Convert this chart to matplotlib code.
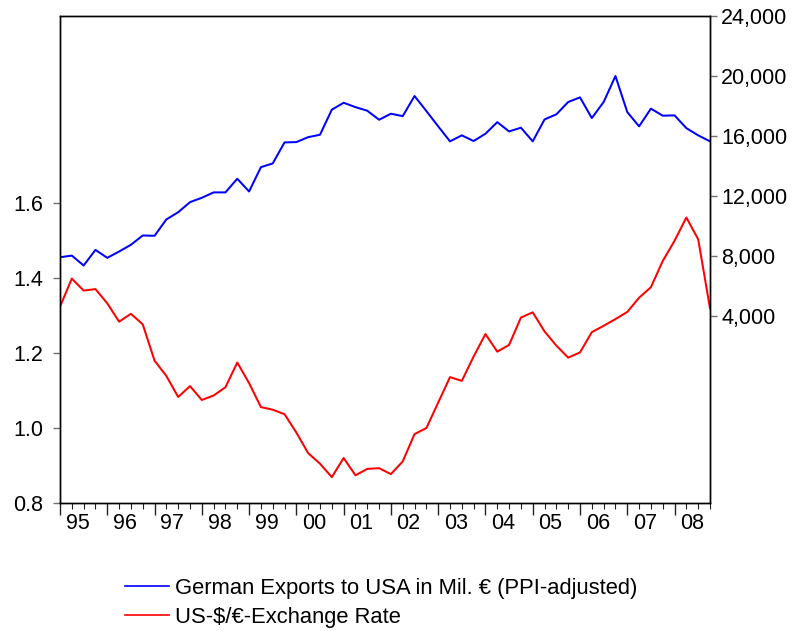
#!/usr/bin/env python3
"""
German exports to the USA vs. US-$/EUR exchange rate, quarterly 1995-2008.
Dual axis line chart, saved as out.png.
"""
import matplotlib.pyplot as plt
from matplotlib.lines import Line2D
from matplotlib.ticker import FuncFormatter

plt.rcParams["font.family"] = ["Liberation Sans", "DejaVu Sans"]

# quarterly observations 1995Q1 .. 2008Q4
years = list(range(1995, 2009))
year_labels = [f"{y % 100:02d}" for y in years]

exports = [
    7930, 8040, 7380, 8420, 7890, 8310, 8760, 9380,
    9360, 10450, 10930, 11600, 11890, 12250, 12250, 13160,
    12310, 13930, 14180, 15580, 15600, 15930, 16090, 17760,
    18220, 17930, 17690, 17090, 17490, 17330, 18670, 17670,
    16650, 15650, 16050, 15670, 16160, 16930, 16310, 16560,
    15650, 17110, 17450, 18270, 18580, 17200, 18270, 20000,
    17600, 16650, 17830, 17360, 17380, 16530, 16050, 15650,
]

usd_eur = [
    1.324, 1.399, 1.367, 1.371, 1.333, 1.284, 1.305, 1.277,
    1.180, 1.139, 1.083, 1.112, 1.075, 1.087, 1.109, 1.175,
    1.120, 1.056, 1.049, 1.037, 0.988, 0.933, 0.905, 0.869,
    0.920, 0.874, 0.891, 0.893, 0.877, 0.911, 0.984, 1.000,
    1.068, 1.136, 1.126, 1.191, 1.251, 1.204, 1.222, 1.295,
    1.309, 1.258, 1.220, 1.188, 1.202, 1.256, 1.273, 1.291,
    1.310, 1.348, 1.376, 1.446, 1.500, 1.562, 1.504, 1.320,
]

left_ticks = [0.8, 1.0, 1.2, 1.4, 1.6]
right_ticks = [4000, 8000, 12000, 16000, 20000, 24000]

FS = 15.5
LEG_FS = 15.8
LW = 1.45
BLUE = "#0000ff"
RED = "#ff0000"
TICK_GRAY = "#707070"


def main():
    n = len(exports)
    x = list(range(n))

    fig = plt.figure(figsize=(7.95, 6.31), dpi=100)
    ax = fig.add_axes([60 / 795, 1 - 503 / 631, 650 / 795, 487 / 631])
    ax2 = ax.twinx()

    ax.plot(x, usd_eur, color=RED, lw=LW)
    ax2.plot(x, exports, color=BLUE, lw=LW)

    ax.set_xlim(0, n - 1)
    ax.set_ylim(0.8, 2.1)
    ax2.set_ylim(-8440, 24000)

    ax.set_yticks(left_ticks)
    ax.yaxis.set_major_formatter(FuncFormatter(lambda v, p: f"{v:.1f}"))
    ax2.set_yticks(right_ticks)
    ax2.yaxis.set_major_formatter(FuncFormatter(lambda v, p: f"{v:,.0f}"))

    ax.tick_params(axis="y", length=5, width=1, color=TICK_GRAY, labelsize=FS, pad=7)
    ax2.tick_params(axis="y", length=5, width=1, color=TICK_GRAY, labelsize=FS, pad=3)

    # year boundaries as major ticks, quarters as minor ticks
    year_pos = [4 * i for i in range(len(years))]
    ax.set_xticks(year_pos, labels=[""] * len(year_pos))
    ax.set_xticks(x, minor=True)
    ax.tick_params(axis="x", which="major", length=8.5, width=1, color="#222222")
    ax.tick_params(axis="x", which="minor", length=4.5, width=0.8, color="#222222")

    # year labels centred between the boundaries
    sec = ax.secondary_xaxis("bottom")
    sec.set_xticks([p + 1.5 for p in year_pos], labels=year_labels)
    sec.tick_params(length=0, labelsize=FS, pad=7)
    sec.spines["bottom"].set_visible(False)

    for a in (ax, ax2):
        for s in a.spines.values():
            s.set_linewidth(1.0)
            s.set_color("black")

    handles = [
        Line2D([], [], color=BLUE, lw=1.2),
        Line2D([], [], color=RED, lw=1.2),
    ]
    labels = [
        "German Exports to USA in Mil. \u20ac (PPI-adjusted)",
        "US-$/\u20ac-Exchange Rate",
    ]
    fig.legend(handles, labels, loc="center left",
               bbox_to_anchor=(125 / 795, 1 - 603 / 631),
               frameon=False, fontsize=LEG_FS, handlelength=2.0,
               handletextpad=0.3, labelspacing=0.38,
               borderpad=0, borderaxespad=0)

    fig.savefig("out.png", dpi=100)


if __name__ == "__main__":
    main()
